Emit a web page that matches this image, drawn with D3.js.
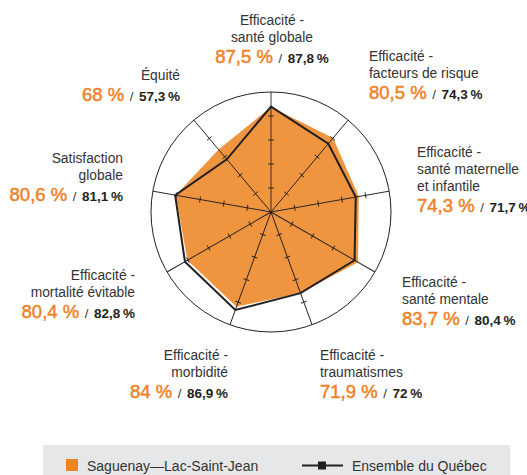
<!DOCTYPE html>
<html>
<head>
<meta charset="utf-8">
<script src="https://cdn.jsdelivr.net/npm/d3@7"></script>
<style>
  body { margin: 0; background: #fff; }
  svg { display: block; font-family: "Liberation Sans", Arial, sans-serif; }
</style>
</head>
<body>
<div id="chart"></div>
<script>
// chart data
var categories = [
    ['Efficacité -', 'santé globale'],
    ['Efficacité -', 'facteurs de risque'],
    ['Efficacité -', 'santé maternelle', 'et infantile'],
    ['Efficacité -', 'santé mentale'],
    ['Efficacité -', 'traumatismes'],
    ['Efficacité -', 'morbidité'],
    ['Efficacité -', 'mortalité évitable'],
    ['Satisfaction', 'globale'],
    ['Équité']
];
var regionValues = [87.5, 80.5, 74.3, 83.7, 71.9, 84, 80.4, 80.6, 68];
var quebecValues = [87.8, 74.3, 71.7, 80.4, 72, 86.9, 82.8, 81.1, 57.3];
var tickValues = [20, 40, 60, 80];
var seriesNames = ['Saguenay\u2014Lac-Saint-Jean', 'Ensemble du Québec'];

// where each axis label sits (anchor, x, first baseline)
var labelLayout = [
    ['middle', 272, 25],
    ['start', 369, 61],
    ['start', 417, 157],
    ['start', 402, 287],
    ['start', 320, 360],
    ['end', 228, 360],
    ['end', 135, 280],
    ['end', 123, 163],
    ['end', 180, 80]
];

var width = 527, height = 475;
var cx = 271, cy = 212, outer = 120;
var orangeFill = '#f0953f', orangeText = '#ef8226', ink = '#231f20';

var svg = d3.select('#chart').append('svg')
    .attr('width', width)
    .attr('height', height);

var r = d3.scaleLinear().domain([0, 100]).range([0, outer]);
var angle = d3.scaleLinear().domain([0, categories.length]).range([0, 2 * Math.PI]);

var radar = svg.append('g').attr('transform', 'translate(' + cx + ',' + cy + ')');

// outer ring
radar.append('circle')
    .attr('r', outer)
    .attr('fill', 'none')
    .attr('stroke', ink)
    .attr('stroke-width', 1);

// orange area
var area = d3.lineRadial()
    .angle(function (d, i) { return angle(i); })
    .radius(function (d) { return r(d); })
    .curve(d3.curveLinearClosed);

radar.append('path')
    .attr('d', area(regionValues))
    .attr('fill', orangeFill);

// spokes with their ticks
var spokes = radar.selectAll('g.spoke')
    .data(categories)
    .enter().append('g')
    .attr('class', 'spoke')
    .attr('transform', function (d, i) {
        return 'rotate(' + (angle(i) * 180 / Math.PI) + ')';
    });

spokes.append('line')
    .attr('x1', 0).attr('y1', 0)
    .attr('x2', 0).attr('y2', -outer)
    .attr('stroke', ink)
    .attr('stroke-width', 0.9);

spokes.selectAll('line.tick')
    .data(tickValues)
    .enter().append('line')
    .attr('class', 'tick')
    .attr('x1', -3).attr('x2', 3)
    .attr('y1', function (t) { return -r(t); })
    .attr('y2', function (t) { return -r(t); })
    .attr('stroke', ink)
    .attr('stroke-width', 0.9);

// Québec line
radar.append('path')
    .attr('d', area(quebecValues))
    .attr('fill', 'none')
    .attr('stroke', ink)
    .attr('stroke-width', 2)
    .attr('stroke-linejoin', 'miter');

// labels
function fr(v) {
    return String(v).replace('.', ',');
}

var labels = svg.append('g').selectAll('text.label')
    .data(categories)
    .enter().append('text')
    .attr('class', 'label')
    .attr('text-anchor', function (d, i) { return labelLayout[i][0]; })
    .attr('fill', '#333');

labels.each(function (lines, i) {
    var node = d3.select(this);
    var x = labelLayout[i][1], y0 = labelLayout[i][2];
    lines.forEach(function (line, k) {
        node.append('tspan')
            .attr('x', x)
            .attr('y', y0 + k * 17)
            .attr('font-size', 13.8)
            .text(line);
    });
    var vy = y0 + (lines.length - 1) * 17 + 21;
    // orange figure, slightly heavier than regular
    node.append('tspan')
        .attr('x', x)
        .attr('y', vy)
        .attr('font-size', 18.5)
        .attr('fill', orangeText)
        .attr('stroke', orangeText)
        .attr('stroke-width', 0.5)
        .text(fr(regionValues[i]) + ' %');
    node.append('tspan')
        .attr('dx', 2)
        .attr('font-size', 13)
        .attr('fill', '#333')
        .text(' / ');
    node.append('tspan')
        .attr('dx', 2)
        .attr('font-size', 13.5)
        .attr('font-weight', 'bold')
        .attr('fill', ink)
        .text(fr(quebecValues[i]) + '\u2009%');
});

// legend
var legend = svg.append('g');
legend.append('rect')
    .attr('x', 43).attr('y', 445)
    .attr('width', 467).attr('height', 32)
    .attr('fill', '#e6e7e8');

legend.append('rect')
    .attr('x', 66).attr('y', 459)
    .attr('width', 12).attr('height', 12)
    .attr('fill', '#f08421');

legend.append('text')
    .attr('x', 87).attr('y', 471)
    .attr('font-size', 14)
    .attr('fill', '#333')
    .text(seriesNames[0]);

legend.append('line')
    .attr('x1', 302).attr('x2', 343)
    .attr('y1', 465.5).attr('y2', 465.5)
    .attr('stroke', ink)
    .attr('stroke-width', 2);

legend.append('rect')
    .attr('x', 318).attr('y', 461.5)
    .attr('width', 8).attr('height', 8)
    .attr('fill', ink);

legend.append('text')
    .attr('x', 352).attr('y', 471)
    .attr('font-size', 14)
    .attr('fill', '#333')
    .text(seriesNames[1]);
</script>
</body>
</html>
